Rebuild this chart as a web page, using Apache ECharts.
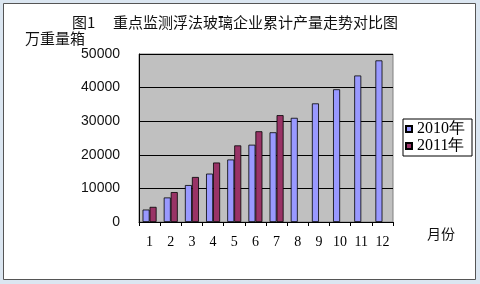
<!DOCTYPE html>
<html><head><meta charset="utf-8">
<script src="https://cdn.jsdelivr.net/npm/echarts@6/dist/echarts.min.js"></script>
<style>html,body{margin:0;padding:0;background:#fff}#c{width:480px;height:284px}</style>
</head><body><div id="c"></div>
<script>
const months = ['1','2','3','4','5','6','7','8','9','10','11','12'];
const series2010 = [3700, 7300, 11000, 14400, 18600, 23000, 26700, 31000, 35300, 39500, 43600, 48100];
const series2011 = [4500, 8900, 13400, 17700, 22800, 27000, 31800];
const yTicks = [0, 10000, 20000, 30000, 40000, 50000];

const chart = echarts.init(document.getElementById('c'), null, {renderer:'canvas'});
const cjk = '"Noto Sans CJK SC", sans-serif';
chart.setOption({
  animation:false,
  backgroundColor:'#fff',
  graphic:[
    {type:'rect', shape:{x:0,y:0,width:480,height:284}, style:{fill:'#dbe6f1'}, z:-10, silent:true},
    {type:'rect', shape:{x:3.5,y:3.5,width:472,height:276}, style:{fill:'#fff', stroke:'#555', lineWidth:1}, z:-9, silent:true},
    {type:'text', left:72, top:15, style:{text:'图1', font:'15px '+cjk, fill:'#111'}},
    {type:'text', left:113, top:15, style:{text:'重点监测浮法玻璃企业累计产量走势对比图', font:'15px '+cjk, fill:'#111'}},
    {type:'text', left:25, top:31, style:{text:'万重量箱', font:'15px '+cjk, fill:'#111'}},
    {type:'text', left:427, top:227, style:{text:'月份', font:'14px '+cjk, fill:'#111'}}
  ],
  grid:{left:139, right:87, top:54, bottom:62, show:true, backgroundColor:'#c0c0c0', borderColor:'#808080', borderWidth:1},
  legend:{
    orient:'vertical', left:403, top:119,
    data:['2010年','2011年'],
    icon:'rect', itemWidth:6, itemHeight:6, itemGap:1,
    borderColor:'#000', borderWidth:1, padding:[2,7,2,2],
    textStyle:{fontFamily:'"Liberation Serif", serif', fontSize:16, color:'#000'}
  },
  xAxis:{
    type:'category', data:months,
    axisLine:{lineStyle:{color:'#000', width:1}},
    axisTick:{show:true, length:4, lineStyle:{color:'#000'}},
    axisLabel:{color:'#000', fontFamily:'"Liberation Serif", serif', fontSize:14, margin:13, interval:0}
  },
  yAxis:{
    type:'value', min:0, max:50000, interval:10000,
    axisLine:{show:true, lineStyle:{color:'#000'}},
    axisTick:{show:false},
    splitLine:{lineStyle:{color:'#000', width:1}},
    axisLabel:{color:'#111', fontFamily:'"Liberation Sans", Arial, sans-serif', fontSize:14, margin:19,
      formatter:v => yTicks.includes(v) ? String(v) : ''}
  },
  series:[
    {name:'2010年', type:'bar', data:series2010, barWidth:7, barGap:'0%',
     itemStyle:{color:'#9999ff', borderColor:'#000', borderWidth:0.8}},
    {name:'2011年', type:'bar', data:series2011, barWidth:7, barGap:'0%',
     itemStyle:{color:'#993366', borderColor:'#000', borderWidth:0.8}}
  ]
});
</script></body></html>
